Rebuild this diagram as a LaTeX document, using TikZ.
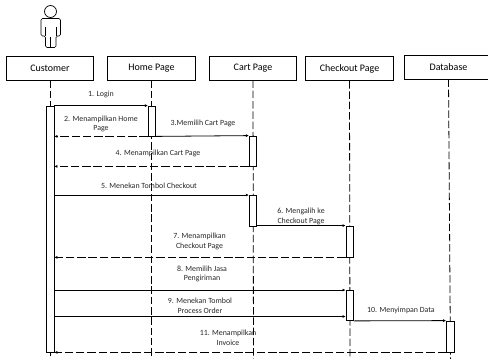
\documentclass[tikz,border=0pt]{standalone}
\usepackage{fontspec}
\setmainfont{Carlito}
\usetikzlibrary{arrows.meta}
\tikzset{
    lifebox/.style={draw,line width=0.8pt,minimum width=87.5pt,minimum height=24pt,inner sep=0pt,font=\fontsize{10}{11}\selectfont},
    activebox/.style={draw,fill=white,line width=0.8pt,minimum width=7.5pt,inner sep=0pt},
    lifeline/.style={line width=0.8pt,dash pattern=on 7.5pt off 2.8pt},
    msgsolid/.style={line width=0.8pt,-{Latex[length=3pt,width=3pt]}},
    msgdash/.style={line width=0.8pt,dash pattern=on 8.5pt off 2.8pt,-{Latex[length=3pt,width=3pt]}},
    msglabel/.style={align=center,inner sep=0pt,text=black!85,font=\fontsize{7.9}{9.6}\selectfont}
}
\begin{document}
\begin{tikzpicture}[x=1pt,y=-1pt]
    \useasboundingbox (0,0) rectangle (488,359);
    % actor
    \draw[line width=0.7pt] (50.5,11.5) circle(6);
    \draw[line width=0.7pt,rounded corners=1.5pt] (45.5,47.5) -- (45.5,36) -- (41,36) -- (41,18.5) -- (60.5,18.5) -- (60.5,36) -- (56,36) -- (56,47.5) -- cycle;
    \draw[line width=0.7pt] (45.5,27) -- (45.5,36);
    \draw[line width=0.7pt] (56,27) -- (56,36);
    \draw[line width=0.7pt] (50.5,37) -- (50.5,47.5);
    % header boxes
    \node[lifebox] (customer) at (50,68) {Customer};
    \node[lifebox] (homepage) at (151.5,68) {Home Page};
    \node[lifebox] (cartpage) at (253,68) {Cart Page};
    \node[lifebox] (checkoutpage) at (349.5,68.7) {Checkout Page};
    \node[lifebox] (database) at (448.5,67) {Database};
    % ends of the lifelines
    \coordinate (customerend) at (50,359);
    \coordinate (homeend) at (151.5,359);
    \coordinate (cartend) at (253.5,359);
    \coordinate (checkoutend) at (350,359);
    \coordinate (databaseend) at (450.5,359);
    \draw[lifeline] (customer.south) -- (customerend);
    \draw[lifeline] (homepage.south) -- (homeend);
    \draw[lifeline] (cartpage.south) -- (cartend);
    \draw[lifeline] (checkoutpage.south) -- (checkoutend);
    \draw[lifeline] (database.south) -- (databaseend);
    % activation boxes
    \node[activebox,minimum height=246pt] (activecustomer) at (50.2,229) {};
    \node[activebox,minimum height=30pt] (activehome) at (152,121) {};
    \node[activebox,minimum height=30pt] (activecarta) at (253,151) {};
    \node[activebox,minimum height=30.5pt] (activecartb) at (253,210.7) {};
    \node[activebox,minimum height=31pt] (activecheckouta) at (349.7,241.5) {};
    \node[activebox,minimum height=30pt] (activecheckoutb) at (349.7,305.5) {};
    \node[activebox,minimum height=31pt] (activedatabase) at (450.2,336.5) {};
    % messages
    \draw[msgsolid] (activehome.north west -| activecustomer.east) -- (activehome.north west);
    \draw[msgdash] (activehome.south west) -- (activehome.south west -| activecustomer.east);
    \draw[msgsolid] (activehome.south east) -- (activecarta.north west);
    \draw[msgdash] (activecarta.south west) -- (activecarta.south west -| activecustomer.east);
    \draw[msgsolid] (activecartb.north west -| activecustomer.east) -- (activecartb.north west);
    \draw[msgsolid] (activecartb.south east |- activecheckouta.north west) -- (activecheckouta.north west);
    \draw[msgdash] (activecheckouta.south west) -- (activecheckouta.south west -| activecustomer.east);
    \draw[msgsolid] (activecheckoutb.north west -| activecustomer.east) -- (activecheckoutb.north west);
    \coordinate (pressorderend) at (activecheckoutb.west |- 0,316.5);
    \draw[msgsolid] (pressorderend -| activecustomer.east) -- (pressorderend);
    \draw[msgsolid] (activecheckoutb.south east) -- (activedatabase.north west);
    \draw[msgdash] (activedatabase.south west) -- (activedatabase.south west -| activecustomer.east);
    % labels
    \node[msglabel] (login) at (101,94.5) {1. Login};
    \node[msglabel] (showhome) at (101,124) {2. Menampilkan Home\\Page};
    \node[msglabel] (choosecart) at (203,123.5) {3.Memilih Cart Page};
    \node[msglabel] (showcart) at (158,153.5) {4. Menampilkan Cart Page};
    \node[msglabel] (pressout) at (149,185.5) {5. Menekan Tombol Checkout};
    \node[msglabel] (moveout) at (301,216.5) {6. Mengalih ke\\Checkout Page};
    \node[msglabel] (showout) at (199.5,241.5) {7. Menampilkan\\Checkout Page};
    \node[msglabel] (choosejasa) at (202,274) {8. Memilih Jasa\\Pengiriman};
    \node[msglabel] (pressorder) at (200,306) {9. Menekan Tombol\\Process Order};
    \node[msglabel] (savedata) at (401,310.5) {10. Menyimpan Data};
    \node[msglabel] (showinvoice) at (228,338) {11. Menampilkan\\Invoice};
\end{tikzpicture}
\end{document}
